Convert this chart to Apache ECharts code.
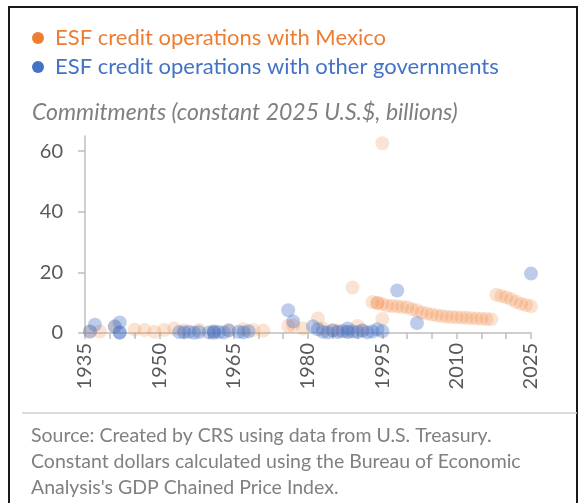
<!DOCTYPE html>
<html><head><meta charset="utf-8">
<script src="https://cdn.jsdelivr.net/npm/echarts@6/dist/echarts.min.js"></script>
<style>html,body{margin:0;padding:0;background:#fff}#c{width:584px;height:503px}</style>
</head><body><div id="c"></div>
<script>
// Data: [year, commitments in constant 2025 US$ billions]
const mexicoYears = [1936,1938,1941,1945,1947,1949,1951,1953,1955,1958,1961,1964,1967,1969,1971,1976,1977,1979,1982,1983,1985,1986,1988,1989,1990,1991,1993,1994,1994,1995,1995,1995,1996,1997,1998,1999,2000,2001,2002,2003,2004,2005,2006,2007,2008,2009,2010,2011,2012,2013,2014,2015,2016,2017,2018,2019,2020,2021,2022,2023,2024,2025];
const mexicoValues = [0.5,0.5,2.0,1.1,1.0,0.4,1.0,1.5,0.8,1.0,0.5,1.0,1.2,1.0,0.8,2.3,2.5,1.5,4.8,1.5,1.0,0.8,0.5,15.0,2.3,0.8,10.2,10.0,9.8,62.6,9.6,4.6,9.0,8.9,8.8,8.6,8.5,7.8,7.5,6.8,6.4,6.1,5.8,5.6,5.4,5.3,5.2,5.1,5.0,4.9,4.8,4.7,4.6,4.5,12.6,12.2,11.8,11.1,10.3,9.6,9.2,8.8];
const otherYears = [1936,1937,1941,1942,1942,1942,1954,1955,1956,1957,1958,1960,1961,1961,1962,1963,1964,1966,1967,1968,1976,1977,1981,1982,1983,1984,1985,1986,1987,1988,1988,1989,1990,1991,1992,1993,1994,1995,1998,2002,2025];
const otherValues = [0.5,2.7,2.2,3.5,0.2,0.1,0.3,0.2,0.4,0.1,0.3,0.2,0.5,0.1,0.3,0.2,0.8,0.4,0.2,0.6,7.5,3.8,2.2,1.2,0.4,0.2,0.8,0.3,0.6,1.5,0.3,0.5,0.3,0.8,0.2,0.5,1.2,0.6,14.0,3.3,19.6];
const yTicks = [0,20,40,60];
const xLabelYears = [1935,1950,1965,1980,1995,2010,2025];
const seriesNames = ['ESF credit operations with Mexico','ESF credit operations with other governments'];

const FONT = 'Lato';
const pair = (xs, ys) => xs.map((x,i)=>[x, ys[i]]);
const chart = echarts.init(document.getElementById('c'), null, {renderer:'canvas'});
chart.setOption({
  animation:false,
  textStyle:{fontFamily:FONT},
  title:[
    {text:'Commitments (constant 2025 U.S.$, billions)', left:32, top:101, padding:0,
     textStyle:{fontFamily:FONT, fontStyle:'italic', fontWeight:'normal', fontSize:23, color:'#7f7f7f'}},
    {text:'Source: Created by CRS using data from U.S. Treasury.\nConstant dollars calculated using the Bureau of Economic\nAnalysis\'s GDP Chained Price Index.', left:31, top:423, padding:0,
     textStyle:{fontFamily:FONT, fontWeight:'normal', fontSize:19.5, lineHeight:26, color:'#808080'}}
  ],
  legend:{
    orient:'vertical', left:27, top:22, itemGap:7, itemWidth:12, itemHeight:12, icon:'circle',
    textStyle:{fontFamily:FONT, fontSize:22, padding:[0,0,0,6]},
    data:[
      {name:seriesNames[0], textStyle:{color:'#ED7D31'}, itemStyle:{color:'#ED7D31', opacity:1}},
      {name:seriesNames[1], textStyle:{color:'#4472C4'}, itemStyle:{color:'#4472C4', opacity:1}}
    ]
  },
  grid:{left:85, right:53, top:136, bottom:170, containLabel:false},
  xAxis:{
    type:'value', min:1935, max:2025, interval:5,
    axisLine:{show:true, onZero:false, lineStyle:{color:'#bfbfbf', width:1.5}},
    axisTick:{show:true, length:6, lineStyle:{color:'#bfbfbf', width:1.5}},
    splitLine:{show:false},
    axisLabel:{rotate:90, margin:10, fontSize:20, color:'#595959', fontFamily:FONT,
      formatter:(v)=> xLabelYears.includes(v) ? String(v) : ''}
  },
  yAxis:{
    type:'value', min:0, max:65, interval:20,
    axisLine:{show:true, lineStyle:{color:'#bfbfbf', width:1.5}},
    axisTick:{show:true, length:7, customValues:yTicks, lineStyle:{color:'#bfbfbf', width:1.5}},
    splitLine:{show:false},
    axisLabel:{customValues:yTicks, margin:22, fontSize:20, color:'#595959', fontFamily:FONT}
  },
  series:[
    {name:seriesNames[0], type:'scatter', symbol:'circle', symbolSize:14, data:pair(mexicoYears, mexicoValues),
     itemStyle:{color:'rgba(237,125,49,0.27)'}},
    {name:seriesNames[1], type:'scatter', symbol:'circle', symbolSize:14, data:pair(otherYears, otherValues),
     itemStyle:{color:'rgba(68,114,196,0.45)'}}
  ],
  graphic:[
    {type:'rect', shape:{x:9, y:7, width:568, height:520}, style:{fill:null, stroke:'#1a1a1a', lineWidth:2}, silent:true},
    {type:'line', shape:{x1:22, y1:413, x2:577, y2:413}, style:{stroke:'#d0d0d0', lineWidth:1.5}, silent:true}
  ]
});
</script></body></html>
